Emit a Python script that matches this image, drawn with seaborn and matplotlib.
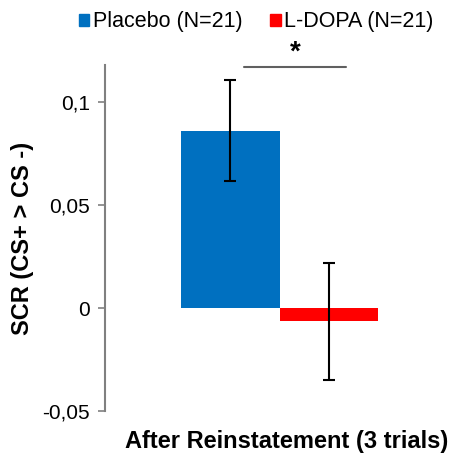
import matplotlib
matplotlib.use("Agg")
import matplotlib.pyplot as plt
import matplotlib.ticker as mticker
import seaborn as sns
import pandas as pd

condition = ["After Reinstatement (3 trials)"]
groups = ["Placebo (N=21)", "L-DOPA (N=21)"]
means = [0.086, -0.0065]
errors = [0.0245, 0.0285]
colors = ["#0070C0", "#FF0000"]
yticks = [-0.05, 0.0, 0.05, 0.1]

sns.set_style("white")
plt.rcParams["font.family"] = ["Liberation Sans", "DejaVu Sans"]
plt.rcParams["text.color"] = "black"
plt.rcParams["axes.labelcolor"] = "black"
plt.rcParams["ytick.labelcolor"] = "black"

df = pd.DataFrame({"cond": condition * len(groups), "group": groups, "value": means})

fig = plt.figure(figsize=(4.54, 4.61), dpi=100)
ax = fig.add_axes([105 / 454, 50 / 461, 1 - 105 / 454, (411 - 65) / 461])

sns.barplot(data=df, x="cond", y="value", hue="group", hue_order=groups,
            palette=colors, width=0.567, errorbar=None, saturation=1,
            edgecolor="none", linewidth=0, ax=ax)

bars = [p for p in ax.patches if p.get_width() > 0][:len(groups)]
for p, m, e in zip(bars, means, errors):
    xc = p.get_x() + p.get_width() / 2
    ax.errorbar(xc, m, yerr=e, fmt="none", ecolor="black", elinewidth=1.5,
                capsize=4, capthick=1.5, zorder=5)

ax.set_xlim(-0.5, 0.5)
ax.set_ylim(-0.05, 0.118)
ax.set_yticks(yticks)
ax.yaxis.set_major_formatter(mticker.FuncFormatter(
    lambda v, pos: ("%g" % round(v, 3)).replace(".", ",")))
ax.tick_params(axis="y", left=True, direction="out", length=5, width=1.2,
               color="#808080", labelsize=15, pad=6, labelcolor="black")
ax.tick_params(axis="x", bottom=False, labelbottom=False)
for s in ["top", "right", "bottom"]:
    ax.spines[s].set_visible(False)
ax.spines["left"].set_color("#808080")
ax.spines["left"].set_linewidth(1.5)

ax.set_ylabel("SCR (CS+ > CS -)", fontsize=17, fontweight="bold", labelpad=6,
              color="black")
ax.set_xlabel("After Reinstatement (3 trials)", fontsize=17, fontweight="bold",
              color="black")
ax.xaxis.set_label_coords(0.52, -0.055)

# significance bracket
c0 = bars[0].get_x() + bars[0].get_width() / 2
c1 = bars[1].get_x() + bars[1].get_width() / 2
ax.plot([c0 + 0.04, c1 + 0.05], [0.117, 0.117], color="#606060", lw=1.5,
        clip_on=False)
ax.text((c0 + c1) / 2 + 0.045, 0.1175, "*", ha="center", va="bottom",
        fontsize=20, fontweight="bold", clip_on=False, color="black")

leg = ax.get_legend()
if leg is not None:
    leg.remove()
handles = [plt.Rectangle((0, 0), 1, 1, color=c) for c in colors]
fig.legend(handles, groups, loc="center", bbox_to_anchor=(256 / 454, 1 - 22 / 461),
           ncol=2, frameon=False, fontsize=15.5, handlelength=0.5,
           handleheight=0.5, handletextpad=0.15, columnspacing=1.3,
           labelcolor="black")

fig.savefig("out.png", dpi=100)
